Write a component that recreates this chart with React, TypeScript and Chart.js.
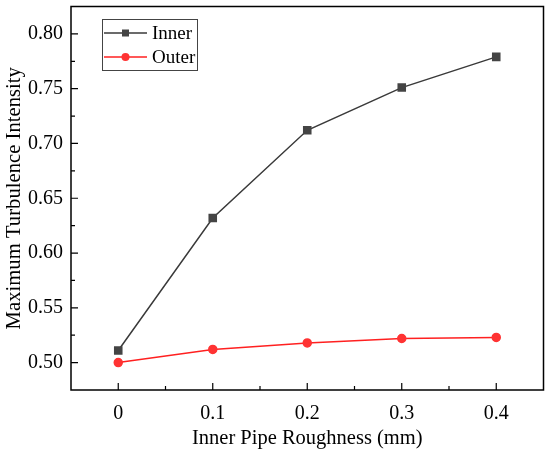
import React, { useEffect, useRef } from "react";
import { Chart, registerables } from "chart.js";

Chart.register(...registerables);

const roughness = [0, 0.1, 0.2, 0.3, 0.4];
const innerValues = [0.511, 0.632, 0.712, 0.751, 0.779];
const outerValues = [0.5, 0.512, 0.518, 0.522, 0.523];
const xTickValues = [0, 0.1, 0.2, 0.3, 0.4];
const yTickValues = [0.5, 0.55, 0.6, 0.65, 0.7, 0.75, 0.8];
const xMinorValues = [0.05, 0.15, 0.25, 0.35];
const yMinorValues = [0.525, 0.575, 0.625, 0.675, 0.725, 0.775];

const FONT = "'Liberation Serif', 'Times New Roman', serif";

const framePlugin = {
  id: "frameTicks",
  afterDraw(chart: any) {
    const { ctx, chartArea } = chart;
    const xs = chart.scales.x;
    const ys = chart.scales.y;
    const { left, right, top, bottom } = chartArea;
    ctx.save();
    ctx.strokeStyle = "#000";
    ctx.lineWidth = 1.5;
    ctx.strokeRect(left, top, right - left, bottom - top);
    ctx.lineWidth = 1.2;
    ctx.beginPath();
    xTickValues.forEach((v) => {
      const px = xs.getPixelForValue(v);
      ctx.moveTo(px, bottom);
      ctx.lineTo(px, bottom - 7);
    });
    xMinorValues.forEach((v) => {
      const px = xs.getPixelForValue(v);
      ctx.moveTo(px, bottom);
      ctx.lineTo(px, bottom - 4);
    });
    yTickValues.forEach((v) => {
      const py = ys.getPixelForValue(v);
      ctx.moveTo(left, py);
      ctx.lineTo(left + 7, py);
    });
    yMinorValues.forEach((v) => {
      const py = ys.getPixelForValue(v);
      ctx.moveTo(left, py);
      ctx.lineTo(left + 4, py);
    });
    ctx.stroke();

    // legend
    const bx = 102, by = 19, bw = 95, bh = 51;
    ctx.lineWidth = 1;
    ctx.strokeStyle = "#444";
    ctx.strokeRect(bx + 0.5, by + 0.5, bw, bh);
    const rows = [
      { ds: chart.data.datasets[0], y: 33 },
      { ds: chart.data.datasets[1], y: 57 },
    ];
    rows.forEach(({ ds, y }) => {
      ctx.strokeStyle = ds.borderColor;
      ctx.lineWidth = 1.5;
      ctx.beginPath();
      ctx.moveTo(104, y);
      ctx.lineTo(147, y);
      ctx.stroke();
      ctx.fillStyle = ds.pointBackgroundColor;
      if (ds.pointStyle === "rect") {
        ctx.fillRect(125.5 - 3.5, y - 3.5, 7, 7);
      } else {
        ctx.beginPath();
        ctx.arc(125.5, y, 4, 0, Math.PI * 2);
        ctx.fill();
      }
      ctx.fillStyle = "#000";
      ctx.font = `19px ${FONT}`;
      ctx.textBaseline = "middle";
      ctx.textAlign = "left";
      ctx.fillText(ds.label, 152, y + 1);
    });
    ctx.restore();
  },
};

export default function App() {
  const ref = useRef<HTMLCanvasElement | null>(null);
  useEffect(() => {
    document.body.style.margin = "0";
    const canvas = ref.current;
    if (!canvas) return;
    const chart = new Chart(canvas, {
      type: "line",
      data: {
        datasets: [
          {
            label: "Inner",
            data: roughness.map((x, i) => ({ x, y: innerValues[i] })),
            borderColor: "#3a3a3a",
            backgroundColor: "#444",
            pointBackgroundColor: "#444",
            pointBorderColor: "#444",
            pointStyle: "rect",
            pointRadius: 5,
            borderWidth: 1.5,
            tension: 0,
          },
          {
            label: "Outer",
            data: roughness.map((x, i) => ({ x, y: outerValues[i] })),
            borderColor: "#ff2020",
            backgroundColor: "#f33",
            pointBackgroundColor: "#f33",
            pointBorderColor: "#f33",
            pointStyle: "circle",
            pointRadius: 4,
            borderWidth: 1.5,
            tension: 0,
          },
        ],
      },
      options: {
        animation: false,
        responsive: false,
        maintainAspectRatio: false,
        layout: { padding: { top: 6, right: 5, left: 0, bottom: 0 } },
        plugins: { legend: { display: false }, tooltip: { enabled: false } },
        scales: {
          x: {
            type: "linear",
            min: -0.05,
            max: 0.45,
            grid: { display: false, drawTicks: false },
            border: { display: false },
            afterBuildTicks: (s: any) => {
              s.ticks = xTickValues.map((v) => ({ value: v }));
            },
            afterFit: (s: any) => {
              s.height = 61;
              s.paddingLeft = 0;
              s.paddingRight = 0;
            },
            ticks: {
              color: "#000",
              padding: 12,
              font: { family: FONT, size: 20 },
              callback: (v: any) => (v === 0 ? "0" : Number(v).toFixed(1)),
              maxRotation: 0,
            },
            title: {
              display: true,
              text: "Inner Pipe Roughness (mm)",
              color: "#000",
              font: { family: FONT, size: 20.5 },
              padding: { top: 0, bottom: 0 },
            },
          },
          y: {
            type: "linear",
            min: 0.475,
            max: 0.825,
            grid: { display: false, drawTicks: false },
            border: { display: false },
            afterBuildTicks: (s: any) => {
              s.ticks = yTickValues.map((v) => ({ value: v }));
            },
            afterFit: (s: any) => {
              s.width = 71;
              s.paddingTop = 0;
              s.paddingBottom = 0;
            },
            ticks: {
              color: "#000",
              padding: 8,
              font: { family: FONT, size: 20 },
              callback: (v: any) => Number(v).toFixed(2),
            },
            title: {
              display: true,
              text: "Maximum Turbulence Intensity",
              color: "#000",
              font: { family: FONT, size: 20.7 },
              padding: { top: 2, bottom: 0 },
            },
          },
        },
      },
      plugins: [framePlugin],
    } as any);
    return () => chart.destroy();
  }, []);
  return (
    <div style={{ position: "absolute", left: 0, top: 0, width: 550, height: 451 }}>
      <canvas ref={ref} width={550} height={451} style={{ width: 550, height: 451 }} />
    </div>
  );
}
